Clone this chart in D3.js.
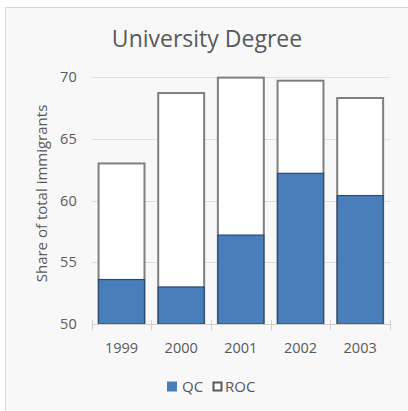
<!DOCTYPE html>
<html>
<head>
<meta charset="utf-8">
<script src="https://cdn.jsdelivr.net/npm/d3@7"></script>
<style>
  html, body { margin: 0; padding: 0; background: #ffffff; }
  svg { display: block; font-family: "Open Sans", sans-serif; }
</style>
</head>
<body>
<svg id="chart" width="408" height="411"></svg>
<script>
// Share of immigrants with a university degree, Quebec vs rest of Canada
const years = ["1999", "2000", "2001", "2002", "2003"];
const qcValues = [53.6, 53.0, 57.2, 62.2, 60.4];
const rocValues = [63.0, 68.7, 69.95, 69.7, 68.3];
const yTicks = [50, 55, 60, 65, 70];
const seriesNames = ["QC", "ROC"];

const svg = d3.select("#chart");
const textColor = "#595959";

// chart frame
svg.append("rect")
  .attr("x", 5.5).attr("y", 7.5)
  .attr("width", 430).attr("height", 430)
  .attr("fill", "#f8f8f8")
  .attr("stroke", "#d9d9d9");

const plot = { left: 91.7, right: 390, top: 77, bottom: 324 };

const x = d3.scaleBand()
  .domain(years)
  .range([plot.left, plot.right])
  .paddingInner(0.23)
  .paddingOuter(0.115);

const y = d3.scaleLinear()
  .domain([50, 70])
  .range([plot.bottom, plot.top]);

// gridlines
svg.append("g")
  .selectAll("line")
  .data(yTicks.filter(t => t > 50))
  .join("line")
  .attr("x1", plot.left).attr("x2", plot.right)
  .attr("y1", d => Math.round(y(d)) + 0.5)
  .attr("y2", d => Math.round(y(d)) + 0.5)
  .attr("stroke", "#dedede");

// y axis labels
const yAxis = d3.axisLeft(y).tickValues(yTicks).tickSize(0).tickPadding(15);
svg.append("g")
  .attr("transform", `translate(${plot.left},0)`)
  .call(yAxis)
  .call(g => g.select(".domain").remove())
  .call(g => g.selectAll("text")
    .attr("fill", textColor)
    .style("font-size", "14.5px")
    .style("font-family", "'Open Sans', sans-serif"));

// ROC bars (behind)
svg.append("g")
  .selectAll("rect")
  .data(years.map((yr, i) => ({ yr, v: rocValues[i] })))
  .join("rect")
  .attr("x", d => x(d.yr))
  .attr("width", x.bandwidth())
  .attr("y", d => y(d.v))
  .attr("height", d => y(50) - y(d.v))
  .attr("fill", "#ffffff")
  .attr("stroke", "#7f7f7f")
  .attr("stroke-width", 2);

// QC bars (front)
svg.append("g")
  .selectAll("rect")
  .data(years.map((yr, i) => ({ yr, v: qcValues[i] })))
  .join("rect")
  .attr("x", d => x(d.yr))
  .attr("width", x.bandwidth())
  .attr("y", d => y(d.v))
  .attr("height", d => y(50) - y(d.v))
  .attr("fill", "#4a7ebb")
  .attr("stroke", "#2a4a70")
  .attr("stroke-width", 1.2);

// category axis
const xBoundaries = d3.range(years.length + 1).map(i => plot.left + i * x.step());
const axisG = svg.append("g");
axisG.append("line")
  .attr("x1", plot.left).attr("x2", plot.right)
  .attr("y1", plot.bottom + 0.5).attr("y2", plot.bottom + 0.5)
  .attr("stroke", "#d0d0d0");
axisG.selectAll("line.tick")
  .data(xBoundaries)
  .join("line")
  .attr("class", "tick")
  .attr("x1", d => Math.round(d) + 0.5).attr("x2", d => Math.round(d) + 0.5)
  .attr("y1", plot.bottom - 4).attr("y2", plot.bottom + 6)
  .attr("stroke", "#d0d0d0");
axisG.selectAll("text")
  .data(years)
  .join("text")
  .attr("x", d => x(d) + x.bandwidth() / 2)
  .attr("y", 353)
  .attr("text-anchor", "middle")
  .attr("fill", textColor)
  .style("font-size", "14.5px")
  .text(d => d);

// title
svg.append("text")
  .attr("x", 207).attr("y", 47)
  .attr("text-anchor", "middle")
  .attr("fill", textColor)
  .style("font-size", "23px")
  .text("University Degree");

// y axis title
svg.append("text")
  .attr("transform", "translate(47,193.5) rotate(-90)")
  .attr("text-anchor", "middle")
  .attr("fill", textColor)
  .style("font-size", "15px")
  .text("Share of total immigrants");

// legend
const legend = svg.append("g");
const legendItems = [
  { name: seriesNames[0], x: 167, fill: "#4a7ebb", stroke: "none", sw: 0, tx: 182 },
  { name: seriesNames[1], x: 212.5, fill: "#ffffff", stroke: "#595959", sw: 2, tx: 225 }
];
legendItems.forEach(it => {
  legend.append("rect")
    .attr("x", it.sw ? it.x + 1 : it.x)
    .attr("y", it.sw ? 382.5 : 381.5)
    .attr("width", it.sw ? 8 : 10)
    .attr("height", it.sw ? 8 : 10)
    .attr("fill", it.fill)
    .attr("stroke", it.stroke)
    .attr("stroke-width", it.sw);
  legend.append("text")
    .attr("x", it.tx).attr("y", 391.5)
    .attr("fill", textColor)
    .style("font-size", "15px")
    .text(it.name);
});
</script>
</body>
</html>
